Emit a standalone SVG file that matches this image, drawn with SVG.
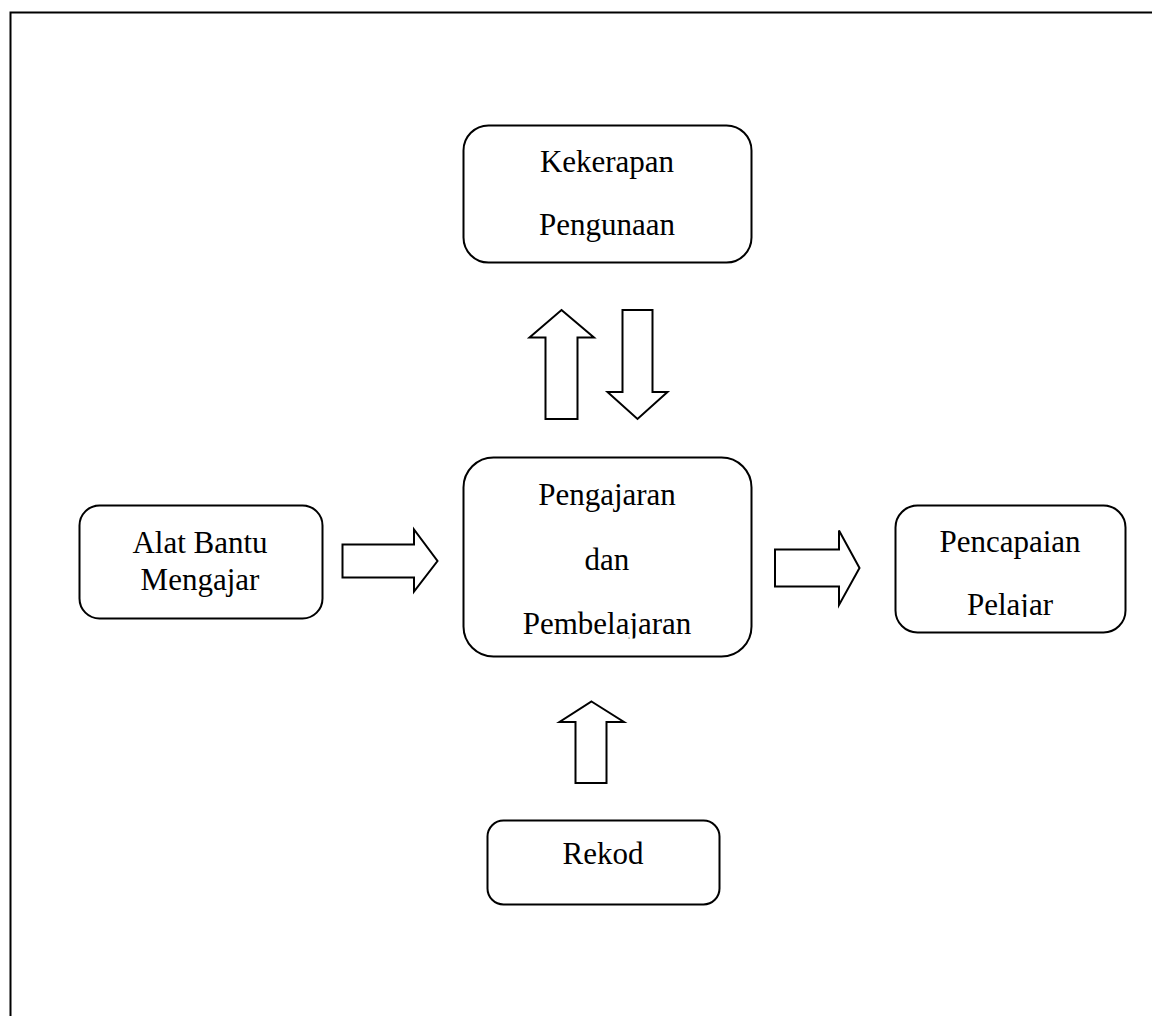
<svg xmlns="http://www.w3.org/2000/svg" width="1152" height="1016" viewBox="0 0 1152 1016">
<style>
.box{fill:#fff;stroke:#000;stroke-width:2}
.arr{fill:#fff;stroke:#000;stroke-width:2;stroke-linejoin:miter}
text{font-family:"Liberation Serif","Times New Roman",serif;font-size:31px;fill:#000;text-anchor:middle}
</style>
<defs>
<clipPath id="c1"><rect x="463" y="600" width="290" height="38.5"/></clipPath>
<clipPath id="c2"><rect x="895" y="585" width="232" height="32"/></clipPath>
</defs>
<rect width="1152" height="1016" fill="#fff"/>
<path d="M10.5 1016 V12.5 H1152" fill="none" stroke="#000" stroke-width="2"/>
<g id="kekerapan">
<rect class="box" x="463.5" y="125.5" width="288" height="137" rx="25"/>
<text x="607" y="172">Kekerapan</text>
<text x="607" y="235">Pengunaan</text>
</g>
<g id="alat">
<rect class="box" x="79.5" y="505.5" width="243" height="113" rx="20"/>
<text x="200" y="553">Alat Bantu</text>
<text x="200" y="590">Mengajar</text>
</g>
<g id="pengajaran">
<rect class="box" x="463.5" y="457.5" width="288" height="199" rx="30"/>
<text x="607" y="505">Pengajaran</text>
<text x="607" y="570">dan</text>
<text x="607" y="634" clip-path="url(#c1)">Pembelajaran</text>
</g>
<g id="pencapaian">
<rect class="box" x="895.5" y="505.5" width="230" height="127" rx="22"/>
<text x="1010" y="552">Pencapaian</text>
<text x="1010" y="615" clip-path="url(#c2)">Pelajar</text>
</g>
<g id="rekod">
<rect class="box" x="487.5" y="820.5" width="232" height="84" rx="16"/>
<text x="603" y="864">Rekod</text>
</g>
<g id="connectors">
<polygon class="arr" points="561.5,310 594,337.5 577.5,337.5 577.5,419 545.5,419 545.5,337.5 529.5,337.5"/>
<polygon class="arr" points="622.5,310 652.5,310 652.5,392 667.5,392 637.5,419 607.5,392 622.5,392"/>
<polygon class="arr" points="342.5,544.5 414,544.5 414,529.5 437.5,561 414,591.5 414,577.5 342.5,577.5"/>
<polygon class="arr" points="775,549.5 839,549.5 839,530.5 859.5,568 839,605 839,586.5 775,586.5"/>
<polygon class="arr" points="591.5,701.5 624,722 606.5,722 606.5,783 575.5,783 575.5,722 559.5,722"/>
</g>
</svg>
